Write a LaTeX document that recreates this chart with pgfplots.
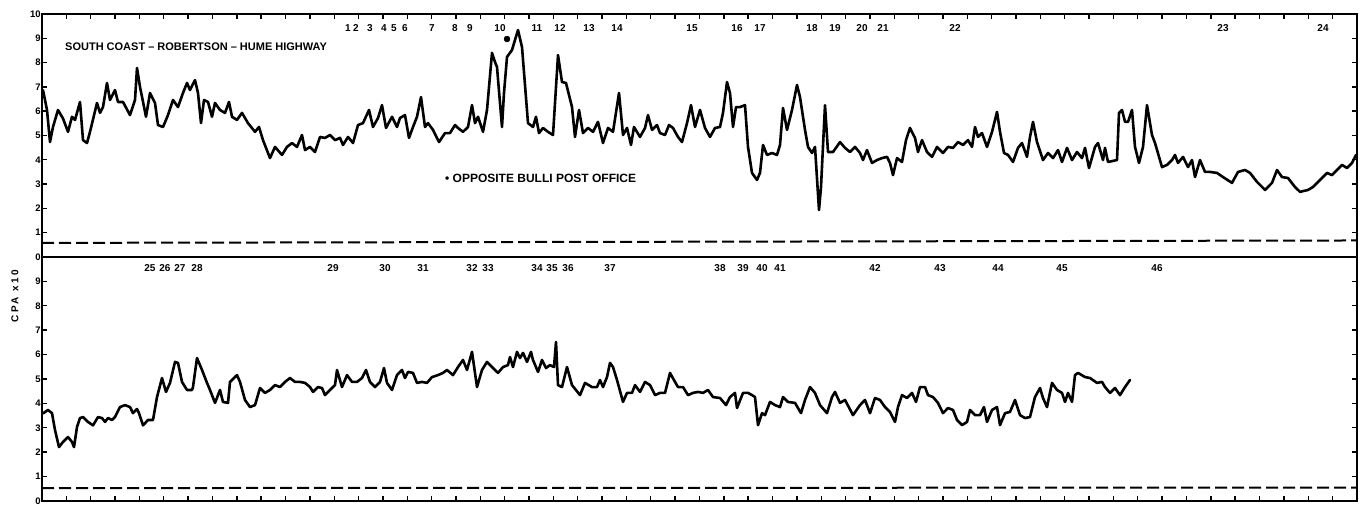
\documentclass[border=0pt]{standalone}
\usepackage{fontspec}
\setmainfont{Liberation Sans}
\usepackage{pgfplots}
\pgfplotsset{compat=1.18}

\pgfplotstableread{
x y
43 6.87
47 6.05
50 4.73
53 5.35
58 6.05
63 5.70
68 5.15
72 5.77
75 5.64
80 6.38
83 4.81
87 4.69
90 5.15
97 6.34
100 5.93
103 6.17
107 7.16
110 6.46
115 6.87
118 6.38
123 6.38
130 5.84
135 6.46
137 7.78
140 7.00
146 5.77
150 6.75
155 6.34
158 5.43
163 5.35
168 5.84
173 6.46
178 6.17
183 6.75
187 7.16
190 6.87
195 7.28
198 6.75
201 5.51
204 6.46
208 6.38
212 5.77
215 6.34
220 6.05
225 5.93
229 6.38
232 5.77
237 5.64
242 5.93
248 5.51
255 5.15
259 5.35
263 4.81
270 4.07
275 4.53
282 4.20
287 4.53
292 4.69
297 4.53
302 5.02
305 4.40
310 4.53
315 4.32
320 4.94
325 4.90
330 5.02
335 4.81
340 4.90
343 4.61
348 4.94
353 4.69
358 5.43
363 5.51
369 6.05
373 5.35
378 5.72
382 6.25
386 5.31
392 5.77
397 5.35
400 5.72
405 5.84
409 4.90
413 5.35
417 5.77
421 6.58
425 5.35
428 5.51
433 5.23
439 4.73
445 5.10
450 5.10
455 5.43
458 5.31
463 5.15
468 5.35
472 6.25
475 5.51
478 5.77
483 5.15
487 6.05
492 8.40
495 8.02
497 7.82
502 5.35
504 6.75
507 8.23
512 8.52
518 9.34
522 8.64
528 5.51
533 5.35
536 5.77
539 5.10
543 5.31
548 5.15
553 5.02
558 8.31
562 7.20
566 7.16
572 6.17
575 4.94
579 6.05
583 5.10
588 5.31
593 5.15
598 5.56
603 4.69
608 5.31
613 5.15
619 6.75
623 5.02
627 5.31
631 4.61
634 5.35
640 4.94
645 5.31
648 5.84
652 5.23
657 5.43
660 5.10
665 5.02
669 5.43
673 5.31
678 4.94
682 4.73
687 5.51
691 6.25
695 5.35
700 6.05
705 5.31
710 4.94
715 5.31
720 5.35
723 5.93
727 7.20
730 6.75
733 5.35
736 6.17
740 6.17
745 6.25
748 4.53
752 3.46
757 3.17
760 3.46
763 4.61
767 4.20
772 4.28
777 4.20
780 4.61
783 6.13
787 5.23
792 6.05
797 7.08
800 6.58
805 5.23
808 4.53
812 4.28
815 4.53
819 1.93
821 2.88
825 6.25
828 4.32
833 4.32
840 4.73
845 4.49
850 4.32
855 4.53
860 4.28
863 3.99
867 4.40
872 3.87
877 3.99
882 4.07
887 4.12
890 3.87
893 3.37
897 4.07
902 3.91
906 4.81
910 5.31
915 4.90
918 4.32
922 4.81
927 4.32
932 4.12
937 4.53
943 4.28
948 4.53
953 4.49
958 4.73
963 4.61
968 4.81
972 4.53
975 5.35
978 4.94
982 5.10
987 4.53
992 5.15
997 5.97
1000 5.15
1004 4.28
1008 4.20
1013 3.91
1018 4.49
1022 4.69
1027 4.12
1030 4.94
1033 5.56
1037 4.73
1043 3.99
1048 4.28
1053 4.07
1058 4.40
1062 3.91
1067 4.49
1072 3.99
1077 4.32
1082 4.07
1085 4.49
1089 3.66
1095 4.53
1098 4.69
1103 3.99
1105 4.49
1108 3.91
1117 3.99
1119 5.93
1122 6.05
1125 5.56
1128 5.56
1132 6.05
1135 4.53
1139 3.87
1143 4.53
1147 6.25
1152 5.02
1155 4.69
1162 3.70
1167 3.79
1172 3.99
1175 4.20
1178 3.87
1183 4.12
1188 3.70
1192 3.99
1195 3.29
1200 3.99
1205 3.50
1210 3.50
1217 3.46
1223 3.29
1232 3.05
1238 3.50
1245 3.58
1250 3.46
1257 3.09
1265 2.76
1272 3.05
1277 3.58
1282 3.29
1288 3.25
1295 2.88
1300 2.68
1308 2.76
1313 2.88
1320 3.17
1323 3.29
1327 3.46
1332 3.37
1337 3.58
1342 3.79
1347 3.66
1352 3.87
1356 4.20
}\toptable

\pgfplotstableread{
x y
43 3.59
48 3.73
52 3.60
55 2.91
59 2.21
63 2.42
68 2.62
72 2.42
74 2.21
77 3.03
80 3.40
83 3.44
88 3.24
93 3.10
98 3.44
102 3.40
105 3.24
108 3.40
112 3.32
115 3.44
120 3.85
125 3.93
130 3.85
133 3.60
137 3.77
139 3.60
143 3.10
148 3.32
153 3.32
157 4.26
162 5.04
166 4.47
170 4.84
175 5.70
178 5.66
182 4.88
187 4.55
192 4.55
193 4.67
197 5.86
202 5.37
207 4.84
210 4.55
215 4.02
220 4.55
223 4.06
228 4.02
230 4.88
237 5.16
240 4.88
245 4.14
250 3.85
255 3.93
260 4.63
265 4.43
270 4.55
275 4.75
280 4.67
285 4.88
290 5.04
295 4.88
300 4.88
305 4.84
310 4.67
313 4.47
318 4.67
322 4.63
325 4.34
330 4.55
335 4.75
337 5.37
342 4.67
347 5.16
352 4.88
357 4.88
362 5.04
366 5.37
370 4.88
375 4.67
380 4.88
384 5.45
387 4.84
392 4.55
397 5.16
402 5.37
405 5.04
408 5.29
413 5.25
417 4.84
422 4.88
427 4.84
432 5.08
438 5.16
443 5.25
447 5.37
453 5.16
458 5.49
463 5.78
467 5.37
472 6.11
477 4.67
482 5.37
487 5.70
493 5.45
498 5.25
503 5.49
508 5.57
510 5.90
513 5.49
517 6.11
520 5.86
523 6.07
527 5.70
531 6.11
533 5.78
538 5.29
542 5.78
546 5.45
550 5.57
554 5.49
556 6.52
558 4.75
562 4.67
567 5.49
572 4.75
580 4.34
585 4.84
592 4.67
597 4.67
600 4.96
603 4.67
607 5.08
610 5.66
613 5.49
617 4.96
623 4.06
627 4.43
632 4.43
635 4.75
640 4.47
645 4.88
650 4.75
655 4.34
660 4.43
665 4.43
670 5.25
675 4.88
678 4.67
683 4.67
688 4.34
693 4.43
698 4.47
703 4.43
708 4.55
713 4.26
720 4.22
726 3.93
730 4.26
735 4.43
737 3.81
743 4.43
748 4.43
752 4.34
755 4.26
758 3.11
762 3.60
765 3.52
770 4.06
775 3.93
780 3.85
783 4.26
788 4.06
795 4.02
801 3.60
805 4.14
810 4.67
815 4.43
820 3.93
827 3.60
832 4.26
835 4.47
840 4.02
845 4.14
853 3.52
860 3.93
865 4.14
870 3.60
875 4.22
880 4.14
885 3.85
890 3.65
895 3.24
898 3.85
902 4.34
907 4.22
912 4.43
916 4.06
920 4.67
925 4.67
928 4.34
933 4.26
938 4.02
943 3.60
948 3.81
953 3.73
957 3.32
962 3.11
967 3.24
970 3.73
975 3.52
980 3.52
984 3.85
987 3.24
992 3.73
997 3.85
1000 3.11
1005 3.60
1010 3.65
1015 4.14
1020 3.52
1025 3.40
1030 3.44
1035 4.26
1040 4.63
1043 4.22
1047 3.85
1052 4.84
1057 4.55
1062 4.43
1065 4.06
1068 4.43
1072 4.06
1075 5.16
1078 5.25
1085 5.08
1090 5.04
1097 4.84
1102 4.88
1105 4.67
1110 4.43
1115 4.63
1120 4.34
1125 4.67
1130 4.96
}\bottable

\pgfplotsset{
  panel/.style={
    scale only axis, width=1315pt,
    xmin=42, xmax=1357, ymin=0, ymax=10,
    axis line style={line width=2pt},
    every tick/.style={black, line width=1.4pt},
    major tick length=5pt,
    tick align=inside,
    xtick={42,66.35,...,1357}, xticklabels={},
    ytick={0,1,...,10},
    yticklabel pos=left,
    yticklabel style={font=\fontsize{9.5}{10}\selectfont\bfseries, inner sep=1.2pt},
    clip=false,
  },
  curve/.style={black, line width=2.6pt, line join=round, line cap=round},
  dline/.style={black, line width=2pt, dash pattern=on 12pt off 5pt},
}
\tikzset{site/.style={font=\fontsize{10}{11}\selectfont\bfseries, inner sep=0pt}}

\begin{document}
\begin{tikzpicture}[x=1pt,y=1pt]
\useasboundingbox (-42,-5) rectangle (1326,501);

% upper panel
\begin{axis}[panel, at={(0pt,244pt)}, anchor=south west, height=243pt,
  xtick pos=top, yticklabels={0,1,2,3,4,5,6,7,8,9,10}]
\addplot[curve] table[x=x,y=y] {\toptable};
\addplot[dline] coordinates {(42,0.58) (1357,0.68)};
\addplot[only marks, mark=*, mark size=3pt, black] coordinates {(507,8.97)};
\node[anchor=west, font=\fontsize{11}{12}\selectfont\bfseries, inner sep=0pt] at (axis cs:65,8.64) {SOUTH COAST -- ROBERTSON -- HUME HIGHWAY};
\node[anchor=west, font=\fontsize{12}{13}\selectfont\bfseries, inner sep=0pt] at (axis cs:445,3.25) {• OPPOSITE BULLI POST OFFICE};
\foreach \p/\l in {348/1,356/2,370/3,384/4,394/5,405/6,432/7,455/8,470/9,500/10,537/11,560/12,589/13,617/14,692/15,737/16,760/17,812/18,835/19,862/20,883/21,955/22,1223/23,1323/24}
  {\edef\tmp{\noexpand\node[site] at (axis cs:\p,9.42) {\l};}\tmp}
\end{axis}

% lower panel
\begin{axis}[panel, at={(0pt,0pt)}, anchor=south west, height=244pt,
  xtick pos=bottom, yticklabels={0,1,2,3,4,5,6,7,8,9,{}}]
\addplot[curve] table[x=x,y=y] {\bottable};
\addplot[dline] coordinates {(42,0.53) (1357,0.55)};
\foreach \p/\l in {150/25,165/26,180/27,197/28,333/29,385/30,423/31,472/32,488/33,537/34,552/35,568/36,610/37,720/38,743/39,762/40,780/41,875/42,940/43,998/44,1062/45,1157/46}
  {\edef\tmp{\noexpand\node[site] at (axis cs:\p,9.55) {\l};}\tmp}
\node[xshift=-27pt, rotate=90, font=\fontsize{10}{11}\selectfont\bfseries\addfontfeature{LetterSpace=25}, inner sep=0pt] at (rel axis cs:0,0.84) {CPA x10};
\end{axis}
\end{tikzpicture}
\end{document}
